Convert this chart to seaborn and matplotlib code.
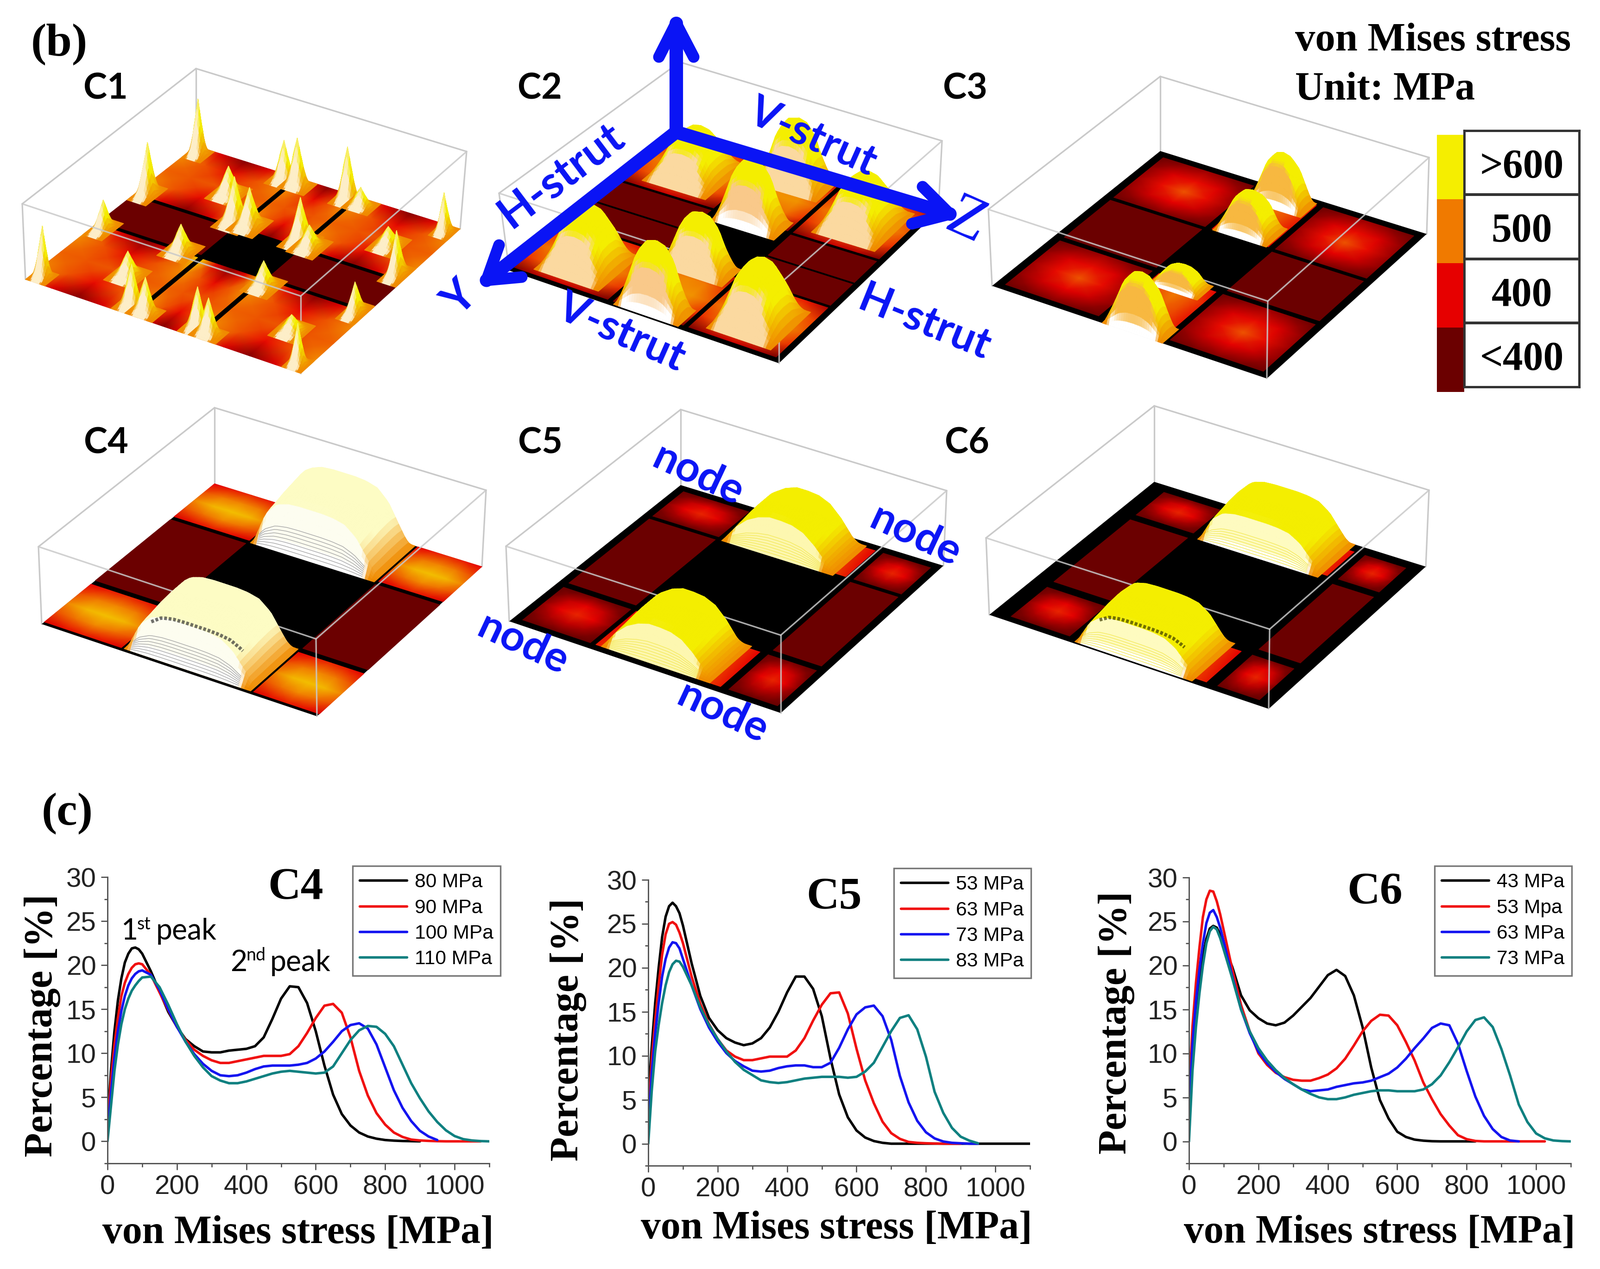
import numpy as np
import pandas as pd
import seaborn as sns
from matplotlib import pyplot as plt
from matplotlib.collections import PolyCollection
from matplotlib.colors import LinearSegmentedColormap, ListedColormap, Normalize, to_rgb
from matplotlib.ticker import MultipleLocator

W, H = 3453, 2739
DPI = 300

# stress axis shared by the twelve curves; shorter series stop early
stress_axis = [0, 5, 10, 20, 30, 40, 50, 60, 70, 80, 90, 100,
               125, 150, 175, 200, 225, 250, 275, 300, 325, 350, 375, 400,
               425, 450, 475, 500, 525, 550, 575, 600, 625, 650, 675, 700,
               725, 750, 775, 800, 825, 850, 875, 900, 925, 950, 975, 1000,
               1025, 1050, 1075, 1100]

c4_80 = [2, 5, 8, 12.5, 16, 18.5, 20.3, 21.3, 21.9, 22, 21.8, 21.3,
         19.3, 17, 14.7, 13, 11.6, 10.8, 10.2, 10.1, 10.1, 10.3, 10.4, 10.5,
         10.8, 11.8, 13.9, 16.2, 17.6, 17.5, 15.7, 12.5, 8.6, 5.3, 3.1, 1.8,
         1, .55, .3, .15, .08, .04, .02, 0]
c4_90 = [1.5, 4, 7, 11, 14, 16.5, 18, 19, 19.7, 20.1, 20.2, 20.1,
         18.9, 16.9, 14.9, 13, 11.5, 10.4, 9.7, 9.2, 8.9, 8.9, 9.1, 9.3,
         9.5, 9.7, 9.7, 9.7, 9.9, 10.8, 12.3, 14, 15.4, 15.6, 14.6, 11.8,
         8, 5.2, 3.2, 1.9, 1, .5, .2, .1, .05, .02, 0, 0, 0, 0, 0]
c4_100 = [1.2, 3, 5.5, 9.5, 12.5, 14.8, 16.5, 17.7, 18.5, 19, 19.3, 19.4,
          18.9, 17.2, 15, 13, 11.3, 9.9, 8.8, 8, 7.5, 7.4, 7.5, 7.8,
          8.2, 8.5, 8.6, 8.6, 8.6, 8.7, 8.9, 9.4, 10.2, 11.3, 12.5, 13.2,
          13.4, 12.8, 11, 8.4, 5.8, 3.8, 2.3, 1.2, .55, .15]
c4_110 = [0, 2, 4, 8, 11, 13.3, 15, 16.2, 17.1, 17.7, 18.2, 18.6,
          18.7, 17.5, 15.5, 13.3, 11.3, 9.7, 8.4, 7.4, 6.9, 6.6, 6.6, 6.8,
          7.1, 7.4, 7.7, 7.9, 8, 7.9, 7.8, 7.7, 7.8, 8.5, 10, 11.5,
          12.6, 13.1, 13, 12.2, 10.8, 8.7, 6.6, 4.9, 3.4, 2.2, 1.25, .6, .25, .1, .03, 0]

c5_53 = [2, 8, 11, 16, 20, 23.5, 25.8, 27, 27.4, 27, 26.2, 24.8,
         20.5, 16.8, 14.3, 12.9, 12, 11.5, 11.2, 11.4, 12, 13.2, 15, 17.2,
         19, 19, 17.6, 14.5, 9.7, 5.6, 3, 1.5, .7, .3, .1, 0,
         0, 0, 0, 0, 0, 0, 0, 0, 0, 0, 0, 0, 0, 0, 0, 0]
c5_63 = [1.5, 6, 9.5, 14, 18, 21.5, 23.8, 25, 25.2, 24.9, 24, 22.8,
         19, 15.9, 13.6, 11.9, 10.6, 9.9, 9.5, 9.5, 9.7, 9.9, 9.9, 9.9,
         10.6, 12, 14, 15.8, 17.1, 17.2, 14.8, 10.8, 7.2, 4.6, 2.5, 1.2,
         .55, .2, .1, .05, .02, 0, 0, 0]
c5_73 = [1, 4.5, 8, 12.5, 16, 19, 21, 22.3, 22.9, 22.8, 22.2, 21,
         18, 15.3, 13.2, 11.6, 10.3, 9.4, 8.8, 8.3, 8.2, 8.3, 8.6, 8.8,
         8.9, 8.9, 8.7, 8.7, 9.2, 10.9, 13, 14.7, 15.5, 15.7, 14.5, 11.8,
         7.7, 4.7, 2.6, 1.3, .6, .25, .1, .05, 0, 0]
c5_83 = [0, 3, 6, 10.5, 13.5, 16, 18, 19.5, 20.4, 20.8, 20.7, 20.1,
         18, 15.5, 13.5, 11.9, 10.5, 9.3, 8.4, 7.8, 7.2, 7, 6.9, 7,
         7.2, 7.4, 7.5, 7.6, 7.6, 7.6, 7.5, 7.6, 8.2, 9.2, 11, 12.8,
         14.3, 14.6, 13, 9.9, 5.9, 3.5, 1.8, .8, .35, .05]

c6_43 = [2, 7, 11, 15, 18.5, 21, 23, 24.2, 24.5, 24.3, 23.5, 22.4,
         19.8, 16.6, 14.9, 14, 13.4, 13.2, 13.5, 14.3, 15.3, 16.3, 17.6, 18.9,
         19.5, 18.8, 16.6, 13, 8.4, 4.7, 2.6, 1.1, .5, .2, .08, .02,
         0, 0, 0, 0, 0]
c6_53 = [3, 9, 13, 18, 22, 25.5, 27.5, 28.5, 28.4, 27.3, 25.8, 24,
         19.5, 15.5, 12.5, 10, 8.7, 7.8, 7.3, 7, 6.9, 6.9, 7.2, 7.6,
         8.3, 9.4, 10.9, 12.5, 13.7, 14.4, 14.3, 13.2, 11.3, 9.2, 6.7, 4.8,
         3.1, 1.8, .7, .25, .05, 0, 0, 0, 0, 0, 0, 0, 0]
c6_63 = [2, 7, 11, 16, 19.5, 22.5, 24.8, 26, 26.3, 25.5, 24.3, 22.7,
         18.7, 15, 12.3, 10.2, 8.9, 7.9, 7.1, 6.5, 5.9, 5.7, 5.8, 5.9,
         6.2, 6.4, 6.6, 6.7, 6.9, 7.3, 7.7, 8.4, 9.4, 10.6, 11.7, 12.9,
         13.4, 13.2, 11.1, 8, 5.1, 2.9, 1.4, .5, .1, 0]
c6_73 = [0, 4, 8, 13, 16.8, 20, 22.5, 23.9, 24.4, 24.1, 23.1, 21.8,
         18.5, 15, 12.5, 10.6, 9.2, 8.1, 7.2, 6.5, 5.9, 5.4, 5, 4.8,
         4.8, 5, 5.3, 5.5, 5.7, 5.8, 5.8, 5.7, 5.7, 5.7, 5.9, 6.5,
         7.5, 9, 10.7, 12.5, 13.8, 14.1, 13, 10.5, 7.5, 4.2, 2.2, .9, .35, .1, .03, 0]

c4_labels = ['80 MPa', '90 MPa', '100 MPa', '110 MPa']
c5_labels = ['53 MPa', '63 MPa', '73 MPa', '83 MPa']
c6_labels = ['43 MPa', '53 Mpa', '63 MPa', '73 MPa']

scale_labels = ['>600', '500', '400', '<400']
scale_levels = [650, 500, 400, 300]

# floor stress tables, MPa, rows along the v direction
flat_dark = [[300, 300], [300, 300]]
flat_black = [[0, 0], [0, 0]]
c1_tile = [[560, 390, 320, 390, 560], [510, 465, 410, 465, 510], [480, 470, 470, 470, 480],
           [510, 465, 410, 465, 510], [560, 390, 320, 390, 560]]
c2_tile = [[350, 420, 450, 420, 350], [450, 500, 510, 500, 450], [480, 520, 520, 520, 480],
           [440, 490, 490, 490, 440], [310, 360, 380, 360, 310]]
c3_tile = [[300, 320, 340, 320, 300], [330, 390, 410, 390, 330], [340, 410, 470, 410, 340],
           [330, 380, 400, 380, 330], [300, 310, 320, 310, 300]]
c3_mid = [[400, 440, 470, 440, 400], [430, 470, 500, 470, 430], [420, 460, 480, 460, 420],
          [420, 450, 470, 450, 420], [400, 420, 440, 420, 400]]
c4_tile = [[400, 420, 430, 420, 400], [460, 500, 510, 500, 460], [510, 550, 560, 550, 510],
           [460, 490, 510, 490, 460], [390, 410, 420, 410, 390]]
c4_mid = [[520, 540, 540, 540, 520], [520, 540, 540, 540, 520]]
c5_tile = [[280, 300, 310, 300, 280], [310, 370, 400, 370, 310], [330, 400, 430, 400, 330],
           [310, 350, 370, 350, 310], [280, 300, 300, 300, 280]]
c5_mid = [[400, 480, 520, 480, 400], [420, 490, 530, 490, 420]]

# height profiles of the stress surfaces
spike_profile = [0, .08, .32, .7, 1, .7, .32, .08, 0]
bump_u_profile = [0, .38, .78, .96, 1, .96, .78, .38, 0]
bump_v_profile = [0, .6, .95, 1, .95, .6, 0]
ridge_v_profile = [0, .85, 1, 1, .85, 0]
plateau_u_profile = [0, .62, .9, .98, 1, 1, 1, .98, .92, .72, .35, 0]
round_u_profile = [0, .42, .72, .9, 1, 1, .97, .85, .58, .22, 0]
slab_v_profile = [0, .96, 1, 1, .98, .96, .92, .88, .85, .8, 0]

# u, v, height in pixels
c1_spikes = [(.02, .02, 120), (.02, .34, 112), (.36, .02, 89), (.36, .34, 99), (.25, .2, 60),
             (.41, .02, 103), (.60, .02, 118), (.41, .33, 82), (.60, .33, 96),
             (.65, .02, 40), (.98, .02, 85), (.64, .34, 47), (.98, .34, 96), (.85, .2, 40),
             (.02, .60, 63), (.02, .98, 110), (.31, .58, 58), (.36, .98, 94), (.25, .8, 53),
             (.41, .98, 75), (.60, .98, 93), (.64, .62, 55),
             (.98, .60, 66), (.64, .98, 77), (.98, .98, 88), (.85, .8, 35)]
# u_lo, u_hi, v_lo, v_hi, height
c2_bumps_pale = [(.06, .30, .05, .30, 95), (.38, .62, .0, .14, 140),
                 (.70, .94, .05, .30, 105), (.06, .30, .70, .95, 120), (.38, .62, .60, .72, 120),
                 (.70, .94, .70, .95, 130)]
c2_bumps_white = [(.38, .62, .28, .40, 135), (.38, .62, .88, .99, 145)]
c3_bumps = [(.40, .60, .02, .12, 105), (.40, .60, .20, .33, 82),
            (.40, .58, .62, .72, 42), (.40, .62, .90, 1.0, 115)]
c4_plateaus = [(.29, .75, .0, .245, 125), (.29, .75, .70, .985, 105)]
c5_plateaus = [(.30, .72, .02, .225, 92), (.32, .72, .715, .97, 90)]
c6_plateaus = [(.30, .74, .0, .235, 88), (.30, .72, .72, .99, 82)]
arch_levels = [.1, .2, .3, .4, .5, .6, .7]

line_colors = ['#000000', '#f01010', '#1414f0', '#0f8080']
stress_cmap = LinearSegmentedColormap.from_list(
    'stress', [(0, '#000000'), (300 / 700, '#6b0000'), (400 / 700, '#e60000'),
               (500 / 700, '#f07a00'), (600 / 700, '#f5ee00'), (1, '#ffffff')])
stress_norm = Normalize(0, 700)
BLUE = '#0a14f5'


def px_axes(fig, left, top, right, bottom):
    return fig.add_axes([left / W, 1 - bottom / H, (right - left) / W, (bottom - top) / H])


def project(corners, u, v):
    b, r, l, f = [np.array(p, dtype=float) for p in corners]
    x = (1 - u) * (1 - v) * b[0] + u * (1 - v) * r[0] + (1 - u) * v * l[0] + u * v * f[0]
    y = (1 - u) * (1 - v) * b[1] + u * (1 - v) * r[1] + (1 - u) * v * l[1] + u * v * f[1]
    return x, y


def draw_tile(ax, corners, u0, u1, v0, v1, table):
    table = np.array(table, dtype=float)
    uu, vv = np.meshgrid(np.linspace(u0, u1, table.shape[1]), np.linspace(v0, v1, table.shape[0]))
    x, y = project(corners, uu, vv)
    ax.pcolormesh(x, y, table, shading='gouraud', cmap=stress_cmap, norm=stress_norm, zorder=3)


def draw_floor(ax, corners, u_edges, v_edges, corner, mid, side=flat_dark, centre=flat_black):
    x, y = project(corners, np.array([0., 1, 1, 0]), np.array([0., 0, 1, 1]))
    ax.fill(x, y, color='black', lw=0, zorder=2)
    tiles = [[corner, mid, corner], [side, centre, side], [corner, mid, corner]]
    for j in range(3):
        for i in range(3):
            draw_tile(ax, corners, u_edges[2 * i], u_edges[2 * i + 1],
                      v_edges[2 * j], v_edges[2 * j + 1], tiles[j][i])


surface_z = [5.0]


def draw_surface(ax, corners, box, height, prof_u, prof_v, front, top='#f4ee00', base=None,
                 front_max=1.0, n=27, arch=None, ridge=None):
    u_lo, u_hi, v_lo, v_hi = box
    uu = np.linspace(u_lo, u_hi, n)
    vv = np.linspace(v_lo, v_hi, n)
    pu = np.interp(np.linspace(0, 1, n), np.linspace(0, 1, len(prof_u)), prof_u)
    pv = np.interp(np.linspace(0, 1, n), np.linspace(0, 1, len(prof_v)), prof_v)
    zz = np.outer(pv, pu)
    gu, gv = np.meshgrid(uu, vv)
    x, y = project(corners, gu, gv)
    y = y - zz * height
    rgb_front, rgb_top, rgb_low = np.array(to_rgb(front)), np.array(to_rgb(top)), np.array(to_rgb('#f08a00'))
    rgb_base = np.array(to_rgb(base or front))
    surface_z[0] += 1
    polys, colors, depth = [], [], []
    for j in range(n - 1):
        for i in range(n - 1):
            polys.append([(x[j, i], y[j, i]), (x[j, i + 1], y[j, i + 1]),
                          (x[j + 1, i + 1], y[j + 1, i + 1]), (x[j + 1, i], y[j + 1, i])])
            level = zz[j:j + 2, i:i + 2].mean()
            sv = zz[j + 1, i:i + 2].mean() - zz[j, i:i + 2].mean()
            su = zz[j:j + 2, i + 1].mean() - zz[j:j + 2, i].mean()
            # side and crest colour runs from orange at the foot to the top colour
            side = rgb_low + (rgb_top - rgb_low) * np.clip(level / .5, 0, 1)
            ratio = max(-sv, 0) / (abs(su) + abs(sv) + 1e-6)
            w = np.clip((ratio - .4) / .2, 0, 1) * np.clip((-sv - .012) / .01, 0, 1)
            w *= np.clip((pu[i:i + 2].mean() - .22) / .14, 0, 1)
            w *= np.clip((front_max - level) / .12, 0, 1)
            face = rgb_base + (rgb_front - rgb_base) * np.clip((level - .12) / .16, 0, 1)
            colors.append(tuple(w * face + (1 - w) * side))
            depth.append(gu[j, i] + gv[j, i])
    order = np.argsort(depth)
    polys = [polys[k] for k in order]
    colors = [colors[k] for k in order]
    ax.add_collection(PolyCollection(polys, facecolors=colors, edgecolors=colors, linewidths=.3,
                                     zorder=surface_z[0]))
    keep = pu > .3
    if arch is not None:
        for t in arch_levels:
            ax_x, ax_y = project(corners, uu[keep], v_hi - (v_hi - v_lo) * .09 * t)
            ax.plot(ax_x, ax_y - t * pv[-4] * pu[keep] * height, color=arch, lw=.35,
                    zorder=surface_z[0] + .5)
    if ridge is not None:
        keep = pu > .6
        ax_x, ax_y = project(corners, uu[keep], v_hi - (v_hi - v_lo) * .3)
        ax.plot(ax_x, ax_y - pv[-4] * pu[keep] * height, color=ridge, lw=1.8, ls=(0, (.8, .5)),
                alpha=.7, zorder=surface_z[0] + .6)


def draw_box(ax, corners, tops, behind):
    b, r, l, f = corners
    tb, tr, tl, tf = tops
    col = '#c9c9c9'
    if behind:
        for p, q in [(tb, tl), (tb, tr), (tb, b), (tl, l), (tr, r)]:
            ax.plot([p[0], q[0]], [p[1], q[1]], color=col, lw=.8, zorder=1)
    else:
        for p, q in [(tl, tf), (tf, tr), (tf, f)]:
            ax.plot([p[0], q[0]], [p[1], q[1]], color=col, lw=.8, alpha=.85, zorder=30)


def draw_arrow(ax, start, tip, barb1, barb2):
    ax.plot([start[0], tip[0]], [start[1], tip[1]], color=BLUE, lw=7, solid_capstyle='round', zorder=39)
    neck = ((barb1[0] + barb2[0] + 2 * tip[0]) / 4, (barb1[1] + barb2[1] + 2 * tip[1]) / 4)
    ax.fill([tip[0], barb1[0], neck[0], barb2[0]], [tip[1], barb1[1], neck[1], barb2[1]], color=BLUE, lw=0, zorder=39)
    for p in (barb1, barb2):
        ax.plot([tip[0], p[0]], [tip[1], p[1]], color=BLUE, lw=6, solid_capstyle='round', zorder=39)


def blue_text(ax, x, y, text, size, rotation, family='Lato', weight='bold'):
    ax.text(x, y, text, color=BLUE, fontsize=size, rotation=rotation, ha='center', va='center',
            family=family, fontweight=weight, rotation_mode='anchor', zorder=40)


def draw_curves(fig, canvas, rect, series, labels, name, name_pos, legend_box, xlabel_pos, ylabel_pos):
    ax = px_axes(fig, *rect)
    ax.set_facecolor('none')
    frames = [pd.DataFrame({'stress': stress_axis[:len(vals)], 'pct': vals, 'load': lab})
              for vals, lab in zip(series, labels)]
    data = pd.concat(frames, ignore_index=True)
    sns.lineplot(data=data, x='stress', y='pct', hue='load', palette=line_colors, estimator=None,
                 sort=False, linewidth=1.3, ax=ax)
    ax.set_xlim(0, 1100)
    ax.set_ylim(-2.5, 30)
    ax.xaxis.set_major_locator(MultipleLocator(200))
    ax.xaxis.set_minor_locator(MultipleLocator(100))
    ax.yaxis.set_major_locator(MultipleLocator(5))
    ax.yaxis.set_minor_locator(MultipleLocator(2.5))
    ax.set_yticks(range(0, 31, 5))
    ax.tick_params(which='major', length=3.4, width=.6, color='#444444', labelsize=14, pad=2.5, labelcolor='#222222')
    ax.tick_params(which='minor', length=1.8, width=.6, color='#444444')
    sns.despine(ax=ax)
    for side in ('left', 'bottom'):
        ax.spines[side].set_linewidth(.7)
        ax.spines[side].set_color('#555555')
    ax.set_xlabel('von Mises stress [MPa]', family='Liberation Serif', fontweight='bold', fontsize=20.6, va='center', ha='center')
    ax.set_ylabel('Percentage [%]', family='Liberation Serif', fontweight='bold', fontsize=20.6, va='center', ha='center')
    ax.xaxis.set_label_coords(*xlabel_pos, transform=canvas.transData)
    ax.yaxis.set_label_coords(*ylabel_pos, transform=canvas.transData)
    canvas.text(name_pos[0], name_pos[1], name, family='Liberation Serif', fontweight='bold', fontsize=23.5,
                ha='center', va='center', zorder=40)
    bx = (legend_box[0] - rect[0]) / (rect[2] - rect[0])
    by = (rect[3] - legend_box[1]) / (rect[3] - rect[1])
    handles, texts = ax.get_legend_handles_labels()
    leg = ax.legend(handles, texts, loc='upper left', bbox_to_anchor=(bx, by), borderaxespad=0, fontsize=10.2,
                    frameon=True, fancybox=False, framealpha=1, edgecolor='#777777', handlelength=2.4,
                    labelspacing=.36, handletextpad=.4, borderpad=.36, title=None)
    leg.get_frame().set_linewidth(.8)
    return ax


sns.set_theme(style='ticks')
plt.rcParams['font.family'] = ['Liberation Sans', 'DejaVu Sans']
plt.rcParams['text.color'] = 'black'
plt.rcParams['axes.labelcolor'] = 'black'

fig = plt.figure(figsize=(W / DPI, H / DPI), dpi=DPI, facecolor='white')
canvas = fig.add_axes([0, 0, 1, 1])
canvas.set_xlim(0, W)
canvas.set_ylim(H, 0)
canvas.axis('off')

# floor corners: back, right, left, front; then the same for the box top
c1_floor = [(423, 315), (993, 494), (55, 603), (649, 806)]
c1_top = [(423, 148), (1007, 327), (48, 440), (649, 639)]
c2_floor = [(1459, 291), (2025, 455), (1099, 584), (1681, 784)]
c2_top = [(1467, 134), (2033, 304), (1077, 417), (1681, 614)]
c3_floor = [(2504, 326), (3079, 505), (2141, 617), (2734, 817)]
c3_top = [(2504, 165), (3084, 340), (2133, 452), (2736, 650)]
c4_floor = [(463, 1044), (1040, 1223), (90, 1347), (684, 1546)]
c4_top = [(463, 880), (1049, 1058), (83, 1180), (682, 1379)]
c5_floor = [(1469, 1047), (2036, 1221), (1099, 1341), (1685, 1539)]
c5_top = [(1469, 884), (2043, 1059), (1092, 1179), (1685, 1371)]
c6_floor = [(2491, 1040), (3077, 1223), (2135, 1327), (2738, 1530)]
c6_top = [(2491, 876), (3084, 1058), (2128, 1161), (2740, 1358)]

for floor, top in [(c1_floor, c1_top), (c2_floor, c2_top), (c3_floor, c3_top),
                   (c4_floor, c4_top), (c5_floor, c5_top), (c6_floor, c6_top)]:
    draw_box(canvas, floor, top, True)
    draw_box(canvas, floor, top, False)

draw_floor(canvas, c1_floor, [.0, .375, .395, .605, .625, 1], [.0, .355, .375, .565, .585, 1], c1_tile, c1_tile)
draw_floor(canvas, c2_floor, [.0, .35, .37, .63, .65, .975], [.0, .33, .345, .635, .65, .975], c2_tile, c2_tile)
draw_floor(canvas, c3_floor, [.03, .37, .395, .605, .63, .97], [.03, .325, .345, .62, .645, .97], c3_tile, c3_mid)
draw_floor(canvas, c4_floor, [.0, .28, .30, .74, .76, 1], [.0, .235, .255, .69, .715, .985], c4_tile, c4_mid)
draw_floor(canvas, c5_floor, [.03, .28, .30, .76, .79, .97], [.03, .21, .23, .70, .73, .97], c5_tile, c5_mid)
draw_floor(canvas, c6_floor, [.06, .27, .30, .76, .80, .95], [.04, .21, .245, .71, .75, .97], c5_tile, c5_mid)
# the thin struts across the two dark C2 tiles
for u_a, u_b in [(0., .35), (.65, .975)]:
    sx, sy = project(c2_floor, np.array([u_a, u_b]), np.array([.49, .49]))
    canvas.plot(sx, sy, color='black', lw=.9, zorder=4)

for u, v, h in sorted(c1_spikes, key=lambda s: s[0] + s[1]):
    draw_surface(canvas, c1_floor, (max(u - .05, 0), min(u + .05, 1), max(v - .065, 0), min(v + .065, 1)), h,
                 spike_profile, spike_profile, '#fdeec8', n=15)
c2_all = [(b, '#fbd9a0', None) for b in c2_bumps_pale] + [(b, '#f9c98a', 'white') for b in c2_bumps_white]
for box_, face, base in sorted(c2_all, key=lambda s: s[0][0] + s[0][2]):
    draw_surface(canvas, c2_floor, box_[:4], box_[4], bump_u_profile, bump_v_profile, face, base=base, front_max=.72)
for box_ in sorted(c3_bumps, key=lambda s: s[0] + s[2]):
    draw_surface(canvas, c3_floor, box_[:4], box_[4], bump_u_profile, ridge_v_profile, '#f7b840', base='white', front_max=.92)
for box_, rdg in zip(c4_plateaus, [None, '#333333']):
    draw_surface(canvas, c4_floor, box_[:4], box_[4], plateau_u_profile, slab_v_profile, '#fdfdf0', top='#fdfcc4',
                 base='white', n=41, arch='#aaaaaa', ridge=rdg)
for box_ in c5_plateaus:
    draw_surface(canvas, c5_floor, box_[:4], box_[4], round_u_profile, slab_v_profile, '#fdf7b0', n=41, arch='#f4ea60')
for box_, rdg in zip(c6_plateaus, [None, '#3a3a00']):
    draw_surface(canvas, c6_floor, box_[:4], box_[4], plateau_u_profile, slab_v_profile, '#fefbc0', base='white', n=41,
                 arch='#f4ea60', ridge=rdg)

# panel letters and headers
canvas.text(128, 96, '(b)', family='Liberation Serif', fontweight='bold', fontsize=24, ha='center', va='center')
canvas.text(145, 1756, '(c)', family='Liberation Serif', fontweight='bold', fontsize=24, ha='center', va='center')
canvas.text(2795, 88, 'von Mises stress', family='Liberation Serif', fontweight='bold', fontsize=20.8, va='center')
canvas.text(2795, 194, 'Unit: MPa', family='Liberation Serif', fontweight='bold', fontsize=20.6, va='center')
for x, y, name in [(228, 191, 'C1'), (1165, 191, 'C2'), (2083, 191, 'C3'),
                   (229, 956, 'C4'), (1166, 956, 'C5'), (2087, 956, 'C6')]:
    canvas.text(x, y, name, family='Lato', fontweight='bold', fontsize=18.5, ha='center', va='center')

# axes arrows and strut / node labels
origin = (1459, 285)
draw_arrow(canvas, origin, (1459, 50), (1422, 123), (1497, 123))
draw_arrow(canvas, origin, (1050, 605), (1077, 529), (1126, 598))
draw_arrow(canvas, origin, (2050, 462), (1991, 403), (1968, 483))
blue_text(canvas, 1210, 378, 'H-strut', 23, 37)
blue_text(canvas, 1754, 296, 'V-strut', 22, -24)
blue_text(canvas, 1341, 718, 'V-strut', 22, -24)
blue_text(canvas, 1995, 697, 'H-strut', 22, -22)
blue_text(canvas, 993, 645, 'Y', 23, 45)
blue_text(canvas, 2085, 480, 'Z', 32, -24, family='Liberation Serif', weight='normal')
for x, y in [(1507, 1025), (1976, 1156), (1129, 1390), (1560, 1538)]:
    blue_text(canvas, x, y, 'node', 22, -25)

# colour key
strip = px_axes(fig, 3101, 291, 3160, 846)
sns.heatmap(np.array(scale_levels).reshape(-1, 1), ax=strip, cmap=ListedColormap(['#6b0000', '#e60000', '#f07a00', '#f5ee00']),
            cbar=False, xticklabels=False, yticklabels=False)
table = px_axes(fig, 3160, 282, 3409, 836)
sns.heatmap(np.zeros((4, 1)), ax=table, cmap=ListedColormap(['white']), cbar=False, xticklabels=False, yticklabels=False,
            annot=np.array(scale_labels).reshape(-1, 1), fmt='', linewidths=1, linecolor='#333333',
            annot_kws={'family': 'Liberation Serif', 'fontweight': 'bold', 'fontsize': 21, 'color': 'black'})
for label in table.texts:
    label.set_y(label.get_position()[1] + .07)
for spine in table.spines.values():
    spine.set_visible(True)
    spine.set_linewidth(1)
    spine.set_color('#333333')

# the three distributions
draw_curves(fig, canvas, (232, 1893, 1056, 2511), [c4_80, c4_90, c4_100, c4_110], c4_labels, 'C4', (638, 1917),
            (761, 1869), (643, 2662), (92, 2213))
draw_curves(fig, canvas, (1399, 1899, 2223, 2516), [c5_53, c5_63, c5_73, c5_83], c5_labels, 'C5', (1800, 1937),
            (1929, 1874), (1805, 2652), (1227, 2222))
draw_curves(fig, canvas, (2566, 1894, 3390, 2511), [c6_43, c6_53, c6_63, c6_73], c6_labels, 'C6', (2967, 1926),
            (3096, 1869), (2977, 2661), (2410, 2207))

# ordinals on the C4 curves
for x, y, s, size in [(262, 2028, '1', 15), (296, 2006, 'st', 9), (337, 2028, 'peak', 15),
                      (497, 2096, '2', 15), (531, 2073, 'nd', 9), (583, 2096, 'peak', 15)]:
    canvas.text(x, y, s, family='Lato', fontsize=size, va='baseline', zorder=40)

fig.savefig('out.png', dpi=DPI)
